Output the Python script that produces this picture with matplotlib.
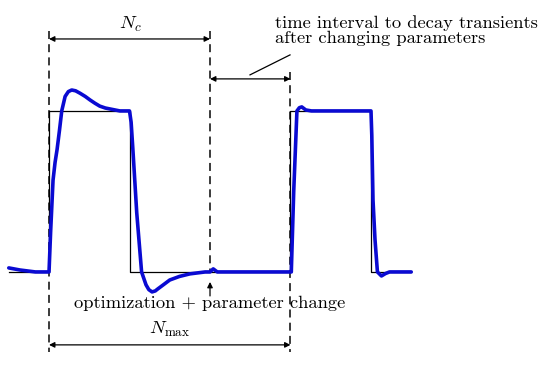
import matplotlib
matplotlib.use("Agg")
import matplotlib.pyplot as plt

plt.rcParams['mathtext.fontset'] = 'cm'
plt.rcParams['font.family'] = ['cmr10', 'DejaVu Serif']

# reference signal (square pulses), time in samples
ref_t = [-5, 0, 0, 10, 10, 30, 30, 40, 40, 45]
ref_y = [0, 0, 1, 1, 0, 0, 1, 1, 0, 0]

# system output
out_t = [-5, -3.6, -1.7, 0, 0.2, 0.5, 0.75, 1.0, 1.3, 1.58, 2.0, 2.4, 2.82,
         3.3, 3.85, 4.5, 5.1, 5.7, 6.3, 7.0, 7.6, 8.8, 10.0, 10.2, 10.4,
         10.9, 11.5, 12.05, 12.4, 12.8, 13.2, 13.5, 14.2, 15.0, 16.2, 17.5,
         19.4, 20.0, 20.4, 20.9,
         30.0, 30.1, 30.4, 30.8, 31.1, 31.4, 31.9, 32.6, 40.0, 40.1, 40.25,
         40.5, 40.8, 41.3, 41.8, 42.3, 45]
out_y = [0.025, 0.012, 0.0, 0.0, 0.25, 0.57, 0.68, 0.76, 0.88, 1.0, 1.09,
         1.12, 1.13, 1.125, 1.11, 1.09, 1.068, 1.048, 1.03, 1.018, 1.012,
         1.0, 1.0, 0.93, 0.776, 0.366, 0.0, -0.08, -0.11, -0.124, -0.118,
         -0.106, -0.08, -0.05, -0.028, -0.012, 0.0, 0.0, 0.019, 0.0,
         0.0, 0.0, 0.5, 1.0, 1.02, 1.025, 1.006, 1.0, 1.0, 0.85, 0.447,
         0.2, 0.0, -0.025, -0.01, 0.0, 0.0]

# interval markers
n_c = 20
n_max = 30

fig = plt.figure(figsize=(5.5, 3.65), dpi=100)
ax = fig.add_axes([0, 0, 1, 1])
ax.set_xlim(-6.09, 62.24)
ax.set_ylim(-0.578, 1.689)
ax.axis('off')

ax.plot(ref_t, ref_y, color='black', lw=0.9, zorder=2)
ax.plot(out_t, out_y, color='#0a0ad2', lw=2.6, zorder=3,
        solid_joinstyle='round', solid_capstyle='round')

dash = dict(color='#222222', lw=1.25, dashes=(4.6, 3.0), zorder=1)
ax.plot([0, 0], [1.497, -0.497], **dash)
ax.plot([n_c, n_c], [1.497, 0.0], **dash)
ax.plot([n_max, n_max], [1.242, -0.497], **dash)

arr = dict(arrowstyle='<|-|>', color='black', lw=0.9, mutation_scale=8,
           shrinkA=0, shrinkB=0)
ax.annotate('', xy=(0, 1.447), xytext=(n_c, 1.447), arrowprops=arr)
ax.annotate('', xy=(n_c, 1.199), xytext=(n_max, 1.199), arrowprops=arr)
ax.annotate('', xy=(0, -0.453), xytext=(n_max, -0.453), arrowprops=arr)
ax.annotate('', xy=(n_c, -0.062), xytext=(n_c, -0.149),
            arrowprops=dict(arrowstyle='-|>', color='black', lw=0.9,
                            mutation_scale=8, shrinkA=0, shrinkB=0))
ax.plot([24.97, 29.94], [1.224, 1.348], color='black', lw=0.9)

ax.text(10.06, 1.54, r'$N_c$', fontsize=13.5, ha='center', va='center')
ax.text(15.0, -0.36, r'$N_{\max}$', fontsize=13.5, ha='center', va='center')
ax.text(28.07, 1.5, 'time interval to decay transients\nafter changing parameters',
        fontsize=13.3, ha='left', va='center', linespacing=0.95)
ax.text(n_c, -0.193, 'optimization + parameter change', fontsize=13.3,
        ha='center', va='center')

fig.savefig('out.png', dpi=100)
